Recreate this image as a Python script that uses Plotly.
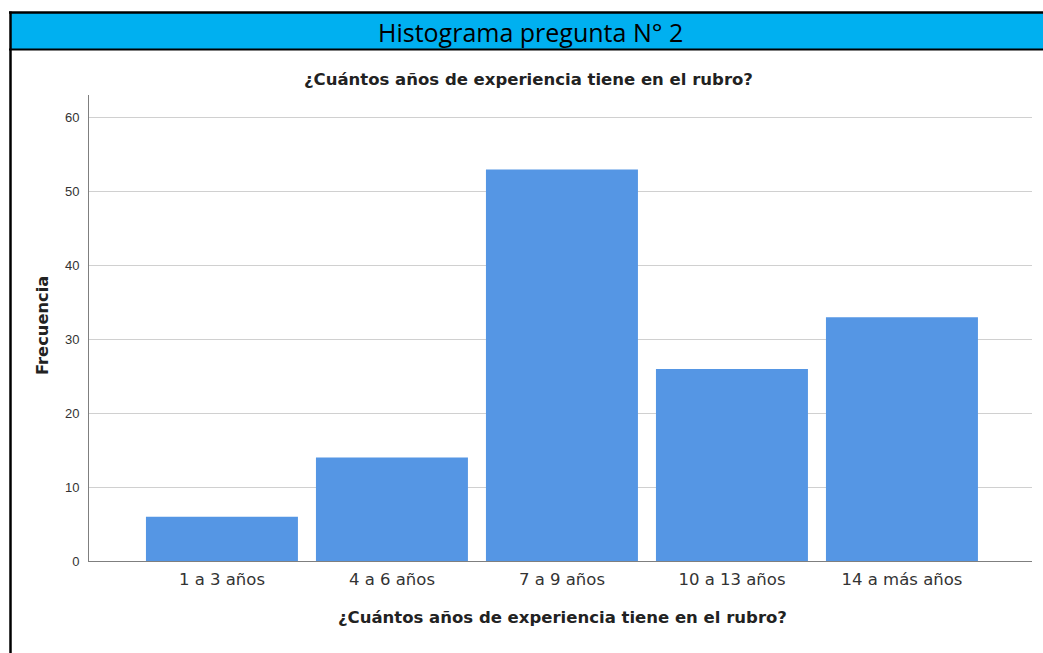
import plotly.graph_objects as go

categories = ["1 a 3 años", "4 a 6 años", "7 a 9 años", "10 a 13 años", "14 a más años"]
frecuencia = [6, 14, 53, 26, 33]
y_ticks = [0, 10, 20, 30, 40, 50, 60]

W, H = 1043, 653
x0, x1 = 89, 1032   # plot area pixels
yt, yb = 95, 561

fig = go.Figure()
fig.add_trace(go.Bar(
    x=list(range(len(categories))), y=frecuencia,
    width=0.894,
    marker=dict(color="#5596E4", line=dict(width=0)),
    hoverinfo="x+y",
))

fig.update_layout(
    width=W, height=H,
    margin=dict(l=0, r=0, t=0, b=0),
    paper_bgcolor="white", plot_bgcolor="white",
    showlegend=False,
    font=dict(family="Liberation Sans, Arial", color="#333333"),
    xaxis=dict(
        domain=[x0 / W, x1 / W],
        range=[-0.782, 4.765],
        tickmode="array", tickvals=list(range(len(categories))), ticktext=categories,
        tickfont=dict(family="DejaVu Sans", size=16.5, color="#333333"),
        showgrid=False, zeroline=False,
        showline=True, linecolor="#7f7f7f", linewidth=1,
        ticks="outside", ticklen=3, tickcolor="rgba(0,0,0,0)",
        fixedrange=True, automargin=False,
    ),
    yaxis=dict(
        domain=[(H - yb) / H, (H - yt) / H],
        range=[0, 63.1],
        tickmode="array", tickvals=y_ticks,
        tickfont=dict(size=13, color="#333333"),
        showgrid=True, gridcolor="#d0d0d0", gridwidth=1,
        zeroline=False,
        showline=True, linecolor="#7f7f7f", linewidth=1,
        ticks="outside", ticklen=6, tickcolor="rgba(0,0,0,0)",
        fixedrange=True, automargin=False,
    ),
    shapes=[
        dict(type="rect", xref="paper", yref="paper",
             x0=11 / W, x1=1.01, y0=(H - 49) / H, y1=(H - 13) / H,
             fillcolor="#00B0F0", line=dict(width=0), layer="below"),
        dict(type="line", xref="paper", yref="paper",
             x0=9 / W, x1=1.01, y0=(H - 12.5) / H, y1=(H - 12.5) / H,
             line=dict(color="black", width=2.5)),
        dict(type="line", xref="paper", yref="paper",
             x0=9 / W, x1=1.01, y0=(H - 49.5) / H, y1=(H - 49.5) / H,
             line=dict(color="black", width=2)),
        dict(type="line", xref="paper", yref="paper",
             x0=10.5 / W, x1=10.5 / W, y0=-0.01, y1=(H - 11.5) / H,
             line=dict(color="black", width=2.5)),
    ],
    annotations=[
        dict(text="Histograma pregunta N° 2", xref="paper", yref="paper",
             x=530 / W, y=(H - 32) / H, xanchor="center", yanchor="middle",
             showarrow=False, font=dict(family="Open Sans", size=25, color="black")),
        dict(text="<b>¿Cuántos años de experiencia tiene en el rubro?</b>", xref="paper", yref="paper",
             x=528 / W, y=(H - 80) / H, xanchor="center", yanchor="middle",
             showarrow=False, font=dict(family="DejaVu Sans", size=16.5, color="#222222")),
        dict(text="<b>¿Cuántos años de experiencia tiene en el rubro?</b>", xref="paper", yref="paper",
             x=562 / W, y=(H - 617) / H, xanchor="center", yanchor="middle",
             showarrow=False, font=dict(family="DejaVu Sans", size=16.5, color="#222222")),
        dict(text="<b>Frecuencia</b>", xref="paper", yref="paper",
             x=42 / W, y=(H - 326) / H, xanchor="center", yanchor="middle",
             textangle=-90, showarrow=False, font=dict(family="DejaVu Sans", size=16.3, color="#222222")),
    ],
)

fig.write_html(
    "out.html",
    config={"displayModeBar": False},
    post_script="document.body.style.margin='0';document.body.style.overflow='hidden';",
)
